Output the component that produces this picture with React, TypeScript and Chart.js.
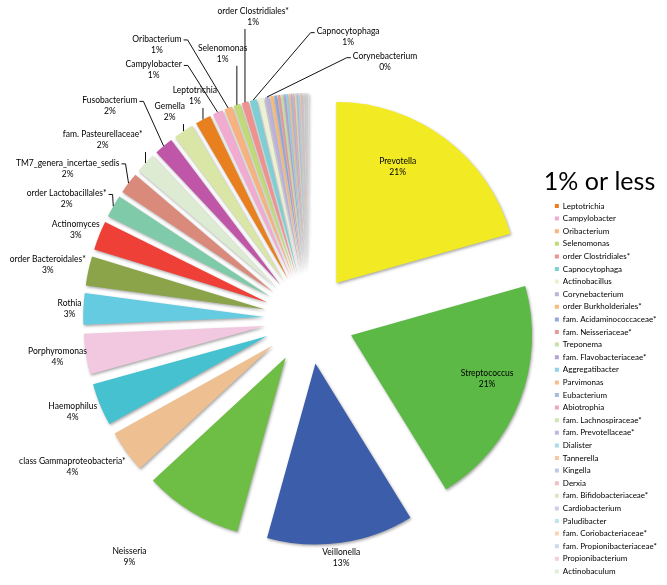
import { useEffect, useRef } from 'react';
import { Chart, registerables } from 'chart.js';

Chart.register(...registerables);

// ---------- DATA ----------
const categories: string[] = [
  'Prevotella',
  'Streptococcus',
  'Veillonella',
  'Neisseria',
  'class Gammaproteobacteria*',
  'Haemophilus',
  'Porphyromonas',
  'Rothia',
  'order Bacteroidales*',
  'Actinomyces',
  'order Lactobacillales*',
  'TM7_genera_incertae_sedis',
  'fam. Pasteurellaceae*',
  'Fusobacterium',
  'Gemella',
  'Leptotrichia',
  'Campylobacter',
  'Oribacterium',
  'Selenomonas',
  'order Clostridiales*',
  'Capnocytophaga',
  'Actinobacillus',
  'Corynebacterium',
  'order Burkholderiales*',
  'fam. Acidaminococcaceae*',
  'fam. Neisseriaceae*',
  'Treponema',
  'fam. Flavobacteriaceae*',
  'Aggregatibacter',
  'Parvimonas',
  'Eubacterium',
  'Abiotrophia',
  'fam. Lachnospiraceae*',
  'fam. Prevotellaceae*',
  'Dialister',
  'Tannerella',
  'Kingella',
  'Derxia',
  'fam. Bifidobacteriaceae*',
  'Cardiobacterium',
  'Paludibacter',
  'fam. Coriobacteriaceae*',
  'fam. Propionibacteriaceae*',
  'Propionibacterium',
  'Actinobaculum',
];

// relative abundance (%)
const shares: number[] = [
  20.6, 20.6, 13.1, 8.8, 3.8, 3.8, 3.6, 2.8, 2.6, 2.6,
  2.0, 1.9, 1.8, 1.7, 1.8, 1.4, 0.9, 0.7, 0.6, 0.6,
  0.6, 0.5, 0.4, 0.28, 0.25, 0.22, 0.2, 0.18, 0.17, 0.16,
  0.15, 0.14, 0.13, 0.12, 0.11, 0.1, 0.09, 0.08, 0.07, 0.07,
  0.06, 0.06, 0.05, 0.05, 0.04,
];

const sliceColors: string[] = [
  '#F2EA22', '#5DB946', '#3C5DA9', '#6EBE45', '#EEBF90',
  '#45C1CF', '#F2C8E0', '#64CBE0', '#8BA349', '#EE4037',
  '#7FCBA9', '#DA8A7B', '#DCEBD1', '#C056A8', '#D9E6A6',
  '#E8801F', '#F1AAD0', '#F7B27F', '#C1DA78', '#EF918F',
  '#7CCFD4', '#EDF1D4', '#BDB3DA', '#F9BB7C', '#92A9D9',
  '#E99B99', '#C8E1A5', '#B3A5D2', '#8FD2EC', '#F9BE8A',
  '#A8BBE0', '#EBA9B5', '#D0E4B4', '#C3B8DC', '#A6DCEC',
  '#F8C9A0', '#BCCBE6', '#F0BFC4', '#DAEAC6', '#D1CBE4',
  '#BDE5F0', '#F9D4B5', '#CED8EE', '#F3D3D6', '#E2EED8',
];

const labelledCategories: string[] = [
  'Prevotella', 'Streptococcus', 'Veillonella', 'Neisseria',
  'class Gammaproteobacteria*', 'Haemophilus', 'Porphyromonas', 'Rothia',
  'order Bacteroidales*', 'Actinomyces', 'order Lactobacillales*',
  'TM7_genera_incertae_sedis', 'fam. Pasteurellaceae*', 'Fusobacterium',
  'Gemella', 'Leptotrichia', 'Campylobacter', 'Oribacterium', 'Selenomonas',
  'order Clostridiales*', 'Capnocytophaga', 'Corynebacterium',
];

const legendTitle = '1% or less';
const legendFirstCategory = 'Leptotrichia';

// ---------- LAYOUT / STYLE ----------
const FONT = 'Lato, "DejaVu Sans", sans-serif';
const LABEL_SIZE = 8.5;
const EXPLODE = 45;
const RADIUS = 181;
const TITLE_SIZE = 25;
const TITLE_PAD_TOP = 116.5;
const LEGEND_PAD = 4.6;
const TITLE_INSET = 11;

// label placement: turn = angular offset from slice bisector (deg),
// dist = multiple of outer reach (or of radius from the slice tip if inside)
type Place = { turn: number; dist: number; inside?: boolean; leader?: boolean };
const labelPlacement: Record<string, Place> = {
  'Prevotella': { turn: -9.3, dist: 0.728, inside: true },
  'Streptococcus': { turn: -3.5, dist: 0.789, inside: true },
  'Veillonella': { turn: 0.4, dist: 1.064 },
  'Neisseria': { turn: 5.7, dist: 1.319 },
  'class Gammaproteobacteria*': { turn: 3.9, dist: 1.236 },
  'Haemophilus': { turn: 0.8, dist: 1.124 },
  'Porphyromonas': { turn: 0.4, dist: 1.126 },
  'Rothia': { turn: -0.2, dist: 1.061 },
  'order Bacteroidales*': { turn: -0.6, dist: 1.181 },
  'Actinomyces': { turn: -0.8, dist: 1.105 },
  'order Lactobacillales*': { turn: -3.6, dist: 1.197, leader: true },
  'TM7_genera_incertae_sedis': { turn: -5.0, dist: 1.259, leader: true },
  'fam. Pasteurellaceae*': { turn: -2.7, dist: 1.209, leader: true },
  'Fusobacterium': { turn: -3.0, dist: 1.291, leader: true },
  'Gemella': { turn: -0.2, dist: 1.104, leader: true },
  'Leptotrichia': { turn: 0.9, dist: 1.109, leader: true },
  'Campylobacter': { turn: -8.1, dist: 1.299, leader: true },
  'Oribacterium': { turn: -8.0, dist: 1.389, leader: true },
  'Selenomonas': { turn: 0.6, dist: 1.234, leader: true },
  'order Clostridiales*': { turn: 6.0, dist: 1.359, leader: true },
  'Capnocytophaga': { turn: 22.2, dist: 1.259, leader: true },
  'Corynebacterium': { turn: 27.2, dist: 1.185, leader: true },
};

const explodePlugin = {
  id: 'explodeSlices',
  afterDatasetUpdate(chart: any, args: any) {
    const meta = chart.getDatasetMeta(args.index);
    meta.data.forEach((arc: any) => {
      const mid = (arc.startAngle + arc.endAngle) / 2;
      arc.x += Math.cos(mid) * EXPLODE;
      arc.y += Math.sin(mid) * EXPLODE;
    });
  },
  beforeDatasetDraw(chart: any) {
    const ctx = chart.ctx;
    ctx.save();
    ctx.shadowColor = 'rgba(0,0,0,0.35)';
    ctx.shadowBlur = 3;
    ctx.shadowOffsetX = 1;
    ctx.shadowOffsetY = 1.5;
  },
  afterDatasetDraw(chart: any) {
    chart.ctx.restore();
  },
};

const labelPlugin = {
  id: 'sliceLabels',
  afterDatasetsDraw(chart: any) {
    const ctx = chart.ctx;
    const meta = chart.getDatasetMeta(0);
    const ca = chart.chartArea;
    const cx = (ca.left + ca.right) / 2;
    const cy = (ca.top + ca.bottom) / 2;
    const total = shares.reduce((a, b) => a + b, 0);
    ctx.save();
    ctx.font = `${LABEL_SIZE}px ${FONT}`;
    ctx.fillStyle = '#000';
    ctx.strokeStyle = '#111';
    ctx.lineWidth = 1;
    ctx.textAlign = 'center';
    ctx.textBaseline = 'middle';
    labelledCategories.forEach((name) => {
      const i = categories.indexOf(name);
      const arc = meta.data[i];
      const place = labelPlacement[name];
      if (!arc || !place) return;
      const mid = (arc.startAngle + arc.endAngle) / 2;
      const R = arc.outerRadius;
      const ang = mid + (place.turn * Math.PI) / 180;
      let lx: number;
      let ly: number;
      if (place.inside) {
        lx = arc.x + Math.cos(ang) * R * place.dist;
        ly = arc.y + Math.sin(ang) * R * place.dist;
      } else {
        lx = cx + Math.cos(ang) * (R + EXPLODE) * place.dist;
        ly = cy + Math.sin(ang) * (R + EXPLODE) * place.dist;
      }
      const pct = Math.round((shares[i] / total) * 100) + '%';
      const half = 5.5;
      ctx.fillText(name, lx, ly - half);
      ctx.fillText(pct, lx, ly + half);
      if (place.leader) {
        const tx = arc.x + Math.cos(mid) * R;
        const ty = arc.y + Math.sin(mid) * R;
        const w = Math.max(ctx.measureText(name).width, ctx.measureText(pct).width);
        const left = lx - w / 2;
        const right = lx + w / 2;
        const bottom = ly + 11;
        ctx.beginPath();
        if (tx > right + 3) {
          const ay = ly - half + 1;
          ctx.moveTo(right + 2, ay);
          ctx.lineTo(right + 6, ay);
          ctx.lineTo(tx, ty);
        } else if (tx < left - 3) {
          const ay = ly - half + 1;
          ctx.moveTo(left - 2, ay);
          ctx.lineTo(left - 6, ay);
          ctx.lineTo(tx, ty);
        } else {
          ctx.moveTo(tx, bottom + 1);
          ctx.lineTo(tx, ty);
        }
        ctx.stroke();
      }
    });
    ctx.restore();
  },
  afterDraw(chart: any) {
    const lg = chart.legend;
    if (!lg) return;
    const ctx = chart.ctx;
    ctx.save();
    ctx.font = `${TITLE_SIZE}px ${FONT}`;
    ctx.fillStyle = '#000';
    ctx.textAlign = 'left';
    ctx.textBaseline = 'middle';
    ctx.fillText(legendTitle, lg.left + LEGEND_PAD - TITLE_INSET, lg.top + TITLE_PAD_TOP + TITLE_SIZE / 2);
    ctx.restore();
  },
};

export default function App() {
  const canvasRef = useRef<HTMLCanvasElement | null>(null);

  useEffect(() => {
    const canvas = canvasRef.current;
    if (!canvas) return;
    const legendStart = categories.indexOf(legendFirstCategory);
    const chart = new Chart(canvas, {
      type: 'pie',
      data: {
        labels: categories,
        datasets: [
          {
            data: shares,
            backgroundColor: sliceColors,
            borderWidth: 0,
            hoverOffset: 0,
            radius: RADIUS,
          } as any,
        ],
      },
      options: {
        responsive: false,
        animation: false,
        events: [],
        layout: { padding: { left: 68, top: 53, right: 0, bottom: 0 } },
        plugins: {
          tooltip: { enabled: false },
          legend: {
            position: 'right',
            align: 'start',
            title: {
              display: true,
              text: '',
              position: 'start',
              font: { family: FONT, size: TITLE_SIZE, lineHeight: 1.1 },
              padding: { top: TITLE_PAD_TOP, bottom: 0.4 },
            },
            labels: {
              boxWidth: 4,
              boxHeight: 4,
              padding: LEGEND_PAD,
              color: '#000',
              font: { family: FONT, size: 8 },
              filter: (item: any) => item.index >= legendStart,
            },
          },
        },
      } as any,
      plugins: [explodePlugin, labelPlugin],
    });
    return () => chart.destroy();
  }, []);

  return (
    <div style={{ position: 'absolute', left: 0, top: 0, width: 667, height: 585, background: '#fff' }}>
      <canvas ref={canvasRef} width={667} height={585} />
    </div>
  );
}
